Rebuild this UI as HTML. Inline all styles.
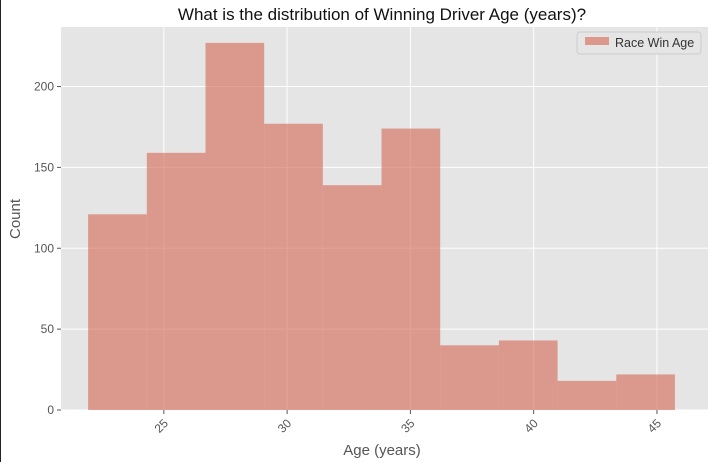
<!DOCTYPE html>
<html><head><meta charset="utf-8"><style>
body{margin:0;background:#fff;width:713px;height:462px;overflow:hidden;font-family:"Liberation Sans","DejaVu Sans",sans-serif;}
</style></head><body>
<svg width="713" height="462" style="position:absolute;left:0;top:0">
<line x1="0.5" y1="0" x2="0.5" y2="462" stroke="#222"/>
<text x="382" y="20" text-anchor="middle" font-size="17" fill="#111">What is the distribution of Winning Driver Age (years)?</text>
<rect x="61" y="27" width="647" height="383" fill="#e5e5e5"/>
<g id="grid"></g><g id="bars"></g><g id="axes"></g>
<text transform="translate(20,219) rotate(-90)" text-anchor="middle" font-size="15" fill="#555">Count</text>
<text x="382" y="455" text-anchor="middle" font-size="15" fill="#555">Age (years)</text>
<g>
<rect x="577" y="32" width="124" height="22" rx="3" fill="#e5e5e5" stroke="#ccc"/>
<rect x="585" y="37" width="24" height="8" fill="#dc988c"/>
<text x="615" y="47" font-size="12.5" fill="#333">Race Win Age</text>
</g>
</svg>
<script>
const counts=[121,159,227,177,139,174,40,43,18,22];
const binStart=21.93, binEnd=45.73;
const xTicks=[25,30,35,40,45];
const yTicks=[0,50,100,150,200];
const L=61,R=708,T=27,B=410;
const xMin=20.83,xMax=47.07,yMax=236.8;
const X=v=>L+(v-xMin)/(xMax-xMin)*(R-L);
const Y=v=>B-v/yMax*(B-T);
const NS="http://www.w3.org/2000/svg";
function mk(t,a,p){const e=document.createElementNS(NS,t);for(const k in a)e.setAttribute(k,a[k]);p.appendChild(e);return e;}
const grid=document.getElementById('grid'),bars=document.getElementById('bars'),axes=document.getElementById('axes');
xTicks.forEach(v=>{
 const g=mk('line',{x1:X(v),x2:X(v),y1:T,y2:B,stroke:'#fff','stroke-width':1},grid);
 
 
 const tk=mk('line',{x1:X(v),x2:X(v),y1:B,y2:B+4,stroke:'#555'},axes);
 
 
 const t=mk('text',{x:0,y:0,'font-size':12,fill:'#555','text-anchor':'end',transform:`translate(${X(v)+5},${B+14}) rotate(-45)`},axes);
 t.textContent=v;
 
 
});
yTicks.forEach(v=>{
 const g=mk('line',{x1:L,x2:R,y1:Y(v),y2:Y(v),stroke:'#fff','stroke-width':1},grid);
 
 
 const tk=mk('line',{x1:L-4,x2:L,y1:Y(v),y2:Y(v),stroke:'#555'},axes);
 
 
 const t=mk('text',{x:L-7,y:Y(v)+4,'font-size':12,fill:'#555','text-anchor':'end'},axes);
 t.textContent=v;
 
 
});
const w=(binEnd-binStart)/counts.length;
counts.forEach((c,i)=>{
 const x0=X(binStart+i*w),x1=X(binStart+(i+1)*w);
 const r=mk('rect',{x:x0,y:Y(c),width:x1-x0,height:Y(0)-Y(c),fill:'#d5705f','fill-opacity':0.65},bars);
 
 
});
</script>
</body></html>
